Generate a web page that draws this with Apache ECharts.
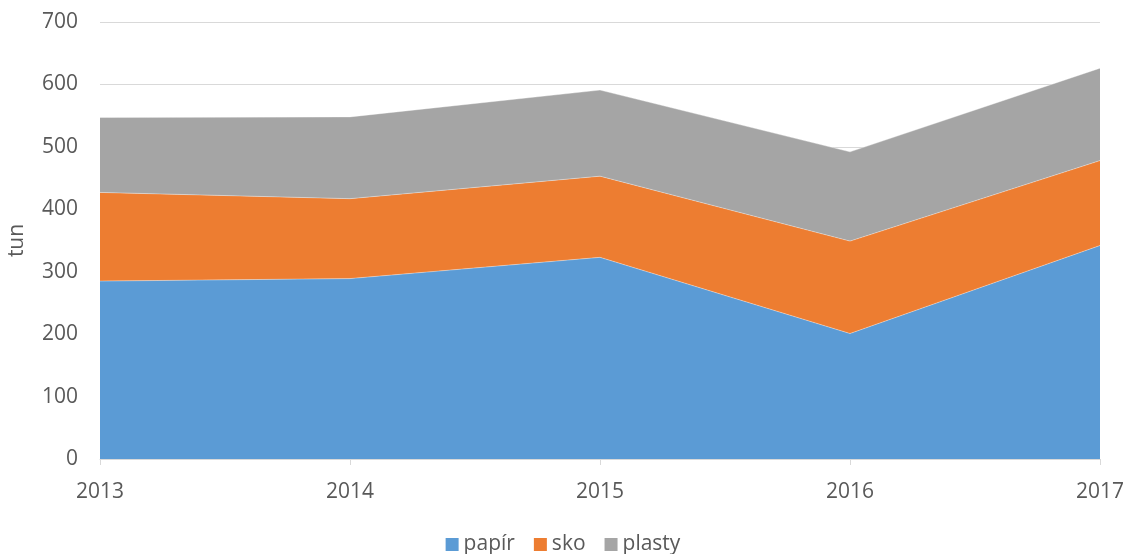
<!DOCTYPE html>
<html>
<head>
<meta charset="utf-8">
<script src="https://cdn.jsdelivr.net/npm/echarts@6/dist/echarts.min.js"></script>
<style>
  html, body { margin: 0; padding: 0; background: #fff; }
  #chart { width: 1126px; height: 554px; }
</style>
</head>
<body>
<div id="chart"></div>
<script>
// Years on the horizontal axis
const years = ['2013', '2014', '2015', '2016', '2017'];
// Collected amounts per material (tonnes), stacked
const papir = [285, 289, 323, 201, 342];
const sko = [142, 128, 130, 148, 136];
const plasty = [120, 131, 138, 143, 148];

const seriesNames = ['papír', 'sko', 'plasty'];
const colors = ['#5B9BD5', '#ED7D31', '#A5A5A5'];
const font = '"Open Sans", Lato, "Liberation Sans", sans-serif';
const textColor = '#595959';

const chart = echarts.init(document.getElementById('chart'), null, { renderer: 'canvas' });

function areaSeries(name, data, color) {
  return {
    name: name,
    type: 'line',
    stack: 'total',
    data: data,
    symbol: 'none',
    smooth: false,
    lineStyle: { width: 0.6, color: 'rgba(255,255,255,0.6)' },
    areaStyle: { color: color, opacity: 1 },
    itemStyle: { color: color },
    emphasis: { disabled: true }
  };
}

chart.setOption({
  animation: false,
  textStyle: { fontFamily: font },
  color: colors,
  grid: {
    left: 100, right: 26, top: 22, bottom: 95,
    containLabel: false,
    outerBoundsMode: 'none'
  },
  legend: {
    top: 534,
    left: 'center',
    padding: 0,
    itemWidth: 13,
    itemHeight: 13,
    itemGap: 19,
    icon: 'rect',
    textStyle: { fontSize: 21, color: textColor, fontFamily: font },
    data: seriesNames
  },
  xAxis: {
    type: 'category',
    data: years,
    boundaryGap: false,
    axisLine: { show: true, lineStyle: { color: '#D9D9D9', width: 1 } },
    axisTick: { show: true, length: 6, lineStyle: { color: '#D9D9D9' } },
    axisLabel: { fontSize: 21, color: textColor, margin: 23 },
    splitLine: { show: false }
  },
  yAxis: {
    type: 'value',
    min: 0,
    max: 700,
    interval: 100,
    name: 'tun',
    nameLocation: 'middle',
    nameRotate: 90,
    nameGap: 72,
    nameTextStyle: { fontSize: 21, color: textColor },
    axisLine: { show: false },
    axisTick: { show: false },
    axisLabel: { fontSize: 21, color: textColor, margin: 22 },
    splitLine: { show: true, lineStyle: { color: '#D9D9D9', width: 1 } }
  },
  series: [
    areaSeries(seriesNames[0], papir, colors[0]),
    areaSeries(seriesNames[1], sko, colors[1]),
    areaSeries(seriesNames[2], plasty, colors[2])
  ]
});
</script>
</body>
</html>
